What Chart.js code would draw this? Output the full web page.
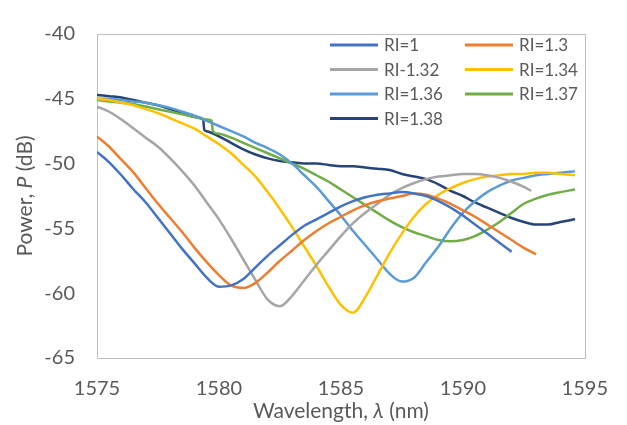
<!DOCTYPE html>
<html>
<head>
<meta charset="utf-8">
<script src="https://cdn.jsdelivr.net/npm/chart.js@4.4.1/dist/chart.umd.min.js"></script>
<style>
  html, body { margin: 0; padding: 0; background: #fff; }
  #wrap { width: 627px; height: 425px; }
</style>
</head>
<body>
<div id="wrap"><canvas id="myChart" width="627" height="425"></canvas></div>
<script>
// series: [wavelength (nm), power (dB)]
const ri100 = [
  [1575, -49.1], [1575.5, -49.9], [1576, -50.9], [1576.5, -52.0], [1577, -53.0], [1577.5, -54.2],
  [1578, -55.4], [1578.5, -56.6], [1579, -57.7], [1579.5, -58.8], [1580, -59.5], [1580.5, -59.4],
  [1581, -58.9], [1581.5, -58.0], [1582, -57.1], [1582.5, -56.3], [1583, -55.5], [1583.5, -54.8],
  [1584, -54.3], [1584.5, -53.8], [1585, -53.3], [1585.5, -52.9], [1586, -52.6], [1586.5, -52.4],
  [1587, -52.3], [1587.5, -52.2], [1588, -52.3], [1588.5, -52.5], [1589, -52.9], [1589.5, -53.4],
  [1590, -54.0], [1590.5, -54.7], [1591, -55.4], [1591.5, -56.1], [1592, -56.8]
];
const ri130 = [
  [1575, -47.9], [1575.5, -48.7], [1576, -49.7], [1576.5, -50.7], [1577, -51.9], [1577.5, -53.1],
  [1578, -54.2], [1578.5, -55.3], [1579, -56.5], [1579.5, -57.6], [1580, -58.6], [1580.5, -59.4],
  [1581, -59.6], [1581.5, -59.2], [1582, -58.4], [1582.5, -57.5], [1583, -56.7], [1583.5, -55.9],
  [1584, -55.2], [1584.5, -54.6], [1585, -54.1], [1585.5, -53.6], [1586, -53.2], [1586.5, -52.9],
  [1587, -52.7], [1587.5, -52.5], [1588, -52.3], [1588.5, -52.4], [1589, -52.7], [1589.5, -53.1],
  [1590, -53.6], [1590.5, -54.1], [1591, -54.7], [1591.5, -55.3], [1592, -55.9], [1592.5, -56.5],
  [1593, -57.0]
];
const ri132 = [
  [1575, -45.6], [1575.5, -46.0], [1576, -46.6], [1576.5, -47.3], [1577, -48.0], [1577.5, -48.7],
  [1578, -49.6], [1578.5, -50.6], [1579, -51.7], [1579.5, -53.0], [1580, -54.3], [1580.5, -55.8],
  [1581, -57.4], [1581.5, -59.0], [1582, -60.5], [1582.5, -61.0], [1583, -60.2], [1583.5, -59.0],
  [1584, -57.8], [1584.5, -56.7], [1585, -55.6], [1585.5, -54.6], [1586, -53.8], [1586.5, -53.1],
  [1587, -52.4], [1587.5, -51.9], [1588, -51.5], [1588.5, -51.2], [1589, -51.0], [1589.5, -50.9],
  [1590, -50.8], [1590.5, -50.8], [1591, -50.9], [1591.5, -51.1], [1592, -51.4], [1592.5, -51.8],
  [1592.8, -52.1]
];
const ri134 = [
  [1575, -45.0], [1575.5, -45.1], [1576, -45.3], [1576.5, -45.5], [1577, -45.8], [1577.5, -46.1],
  [1578, -46.5], [1578.5, -46.9], [1579, -47.3], [1579.5, -47.9], [1580, -48.5], [1580.5, -49.2],
  [1581, -50.1], [1581.5, -51.0], [1582, -52.2], [1582.5, -53.5], [1583, -54.9], [1583.5, -56.4],
  [1584, -57.9], [1584.5, -59.5], [1585, -60.9], [1585.5, -61.5], [1586, -60.3], [1586.5, -58.6],
  [1587, -56.9], [1587.5, -55.4], [1588, -54.1], [1588.5, -53.1], [1589, -52.4], [1589.5, -51.9],
  [1590, -51.5], [1590.5, -51.2], [1591, -51.0], [1591.5, -50.9], [1592, -50.8], [1592.5, -50.8],
  [1593, -50.7], [1593.5, -50.7], [1594, -50.8], [1594.6, -50.9]
];
const ri136 = [
  [1575, -45.0], [1575.5, -45.0], [1576, -45.1], [1576.5, -45.2], [1577, -45.3], [1577.5, -45.5],
  [1578, -45.7], [1578.5, -46.0], [1579, -46.3], [1579.5, -46.7], [1580, -47.1], [1580.5, -47.5],
  [1581, -47.9], [1581.5, -48.4], [1582, -48.8], [1582.5, -49.3], [1583, -50.0], [1583.5, -50.9],
  [1584, -51.8], [1584.5, -52.9], [1585, -54.0], [1585.5, -55.2], [1586, -56.3], [1586.5, -57.4],
  [1587, -58.5], [1587.5, -59.1], [1588, -58.8], [1588.5, -57.6], [1589, -56.4], [1589.5, -55.0],
  [1590, -53.8], [1590.5, -52.9], [1591, -52.2], [1591.5, -51.7], [1592, -51.3], [1592.5, -51.1],
  [1593, -50.9], [1593.5, -50.8], [1594, -50.7], [1594.6, -50.6]
];
const ri137 = [
  [1575, -45.1], [1575.5, -45.2], [1576, -45.3], [1576.5, -45.4], [1577, -45.6], [1577.5, -45.8],
  [1578, -46.0], [1578.5, -46.2], [1579, -46.4], [1579.5, -46.6], [1579.7, -46.7], [1579.75, -47.5],
  [1580, -47.7], [1580.5, -48.0], [1581, -48.4], [1581.5, -48.8], [1582, -49.2], [1582.5, -49.6],
  [1583, -50.0], [1583.5, -50.4], [1584, -50.9], [1584.5, -51.4], [1585, -52.0], [1585.5, -52.6],
  [1586, -53.2], [1586.5, -53.8], [1587, -54.4], [1587.5, -54.9], [1588, -55.3], [1588.5, -55.6],
  [1589, -55.9], [1589.5, -56.0], [1590, -55.9], [1590.5, -55.6], [1591, -55.1], [1591.5, -54.5],
  [1592, -53.8], [1592.5, -53.1], [1593, -52.7], [1593.5, -52.4], [1594, -52.2], [1594.6, -52.0]
];
const ri138 = [
  [1575, -44.7], [1575.5, -44.8], [1576, -44.9], [1576.5, -45.1], [1577, -45.3], [1577.5, -45.5],
  [1578, -45.8], [1578.5, -46.1], [1579, -46.4], [1579.35, -46.6], [1579.4, -47.4], [1579.5, -47.5],
  [1580, -47.9], [1580.5, -48.4], [1581, -48.9], [1581.5, -49.3], [1582, -49.6], [1582.5, -49.8],
  [1583, -49.9], [1583.5, -50.0], [1584, -50.0], [1584.5, -50.1], [1585, -50.2], [1585.5, -50.2],
  [1586, -50.3], [1586.5, -50.4], [1587, -50.5], [1587.5, -50.8], [1588, -51.0], [1588.5, -51.2],
  [1589, -51.6], [1589.5, -52.1], [1590, -52.5], [1590.5, -53.0], [1591, -53.4], [1591.5, -53.8],
  [1592, -54.2], [1592.5, -54.5], [1593, -54.7], [1593.5, -54.7], [1594, -54.5], [1594.6, -54.3]
];

const seriesNames = ['RI=1', 'RI=1.3', 'RI-1.32', 'RI=1.34', 'RI=1.36', 'RI=1.37', 'RI=1.38'];
const seriesData = [ri100, ri130, ri132, ri134, ri136, ri137, ri138];
const seriesColors = ['#4472C4', '#ED7D31', '#A5A5A5', '#FFC000', '#5B9BD5', '#70AD47', '#264478'];

const xTicks = [1575, 1580, 1585, 1590, 1595];
const yTicks = [-65, -60, -55, -50, -45, -40];

const FONT = 'Lato, "Open Sans", sans-serif';
const TEXT_COLOR = '#595959';

// frame around the plot + two-column legend + axis titles with italic symbols
const decorPlugin = {
  id: 'decor',
  beforeDatasetsDraw(chart) {
    const { ctx, chartArea: a } = chart;
    ctx.save();
    ctx.strokeStyle = '#BFBFBF';
    ctx.lineWidth = 1;
    ctx.strokeRect(Math.round(a.left) + 0.5, Math.round(a.top) + 0.5,
      Math.round(a.right - a.left), Math.round(a.bottom - a.top));
    ctx.restore();
  },
  afterDraw(chart) {
    const ctx = chart.ctx;
    ctx.save();
    // legend
    ctx.font = '17px ' + FONT;
    ctx.textBaseline = 'middle';
    chart.data.datasets.forEach((ds, i) => {
      let col = i % 2, row = Math.floor(i / 2);
      let x = 330 + col * 135;
      let y = 45 + row * 24.5;
      ctx.strokeStyle = ds.borderColor;
      ctx.lineWidth = 3;
      ctx.beginPath();
      ctx.moveTo(x, y);
      ctx.lineTo(x + 48, y);
      ctx.stroke();
      ctx.fillStyle = TEXT_COLOR;
      ctx.fillText(ds.label, x + 54, y + 1);
    });

    // axis titles
    const drawParts = (parts, cx, cy) => {
      let widths = parts.map(p => { ctx.font = p[1] + ' 21px ' + FONT; return ctx.measureText(p[0]).width; });
      let total = widths.reduce((s, w) => s + w, 0);
      let x = cx - total / 2;
      parts.forEach((p, k) => {
        ctx.font = p[1] + ' 21px ' + FONT;
        ctx.fillText(p[0], x, cy);
        x += widths[k];
      });
    };
    ctx.fillStyle = TEXT_COLOR;
    ctx.textBaseline = 'middle';
    ctx.textAlign = 'left';
    let a = chart.chartArea;
    drawParts([['Wavelength, ', 'normal'], ['λ', 'italic'], [' (nm)', 'normal']], (a.left + a.right) / 2, 411);
    ctx.translate(25, (a.top + a.bottom) / 2);
    ctx.rotate(-Math.PI / 2);
    drawParts([['Power, ', 'normal'], ['P', 'italic'], [' (dB)', 'normal']], 0, 0);
    ctx.restore();
  }
};

const ctx = document.getElementById('myChart').getContext('2d');
const myChart = new Chart(ctx, {
  type: 'line',
  data: {
    datasets: seriesData.map((pts, i) => ({
      label: seriesNames[i],
      data: pts.map(p => ({ x: p[0], y: p[1] })),
      borderColor: seriesColors[i],
      backgroundColor: seriesColors[i],
      borderWidth: 2.5,
      pointRadius: 0,
      cubicInterpolationMode: 'monotone',
      fill: false
    }))
  },
  options: {
    responsive: false,
    animation: false,
    layout: { padding: { left: 0, right: 31, top: 20, bottom: 0 } },
    plugins: {
      legend: { display: false },
      tooltip: { enabled: false }
    },
    scales: {
      x: {
        type: 'linear',
        min: xTicks[0],
        max: xTicks[xTicks.length - 1],
        afterBuildTicks: s => { s.ticks = xTicks.map(v => ({ value: v })); },
        afterFit: s => { s.height = 67; },
        grid: { display: false, drawTicks: false },
        border: { display: false },
        ticks: { color: TEXT_COLOR, font: { family: FONT, size: 20 }, padding: 19, maxRotation: 0, callback: v => String(v) }
      },
      y: {
        min: yTicks[0],
        max: yTicks[yTicks.length - 1],
        afterBuildTicks: s => { s.ticks = yTicks.map(v => ({ value: v })); },
        afterFit: s => { s.width = 97; },
        grid: { display: false, drawTicks: false },
        border: { display: false },
        ticks: { color: TEXT_COLOR, font: { family: FONT, size: 20 }, padding: 22 }
      }
    }
  },
  plugins: [decorPlugin]
});
</script>
</body>
</html>
